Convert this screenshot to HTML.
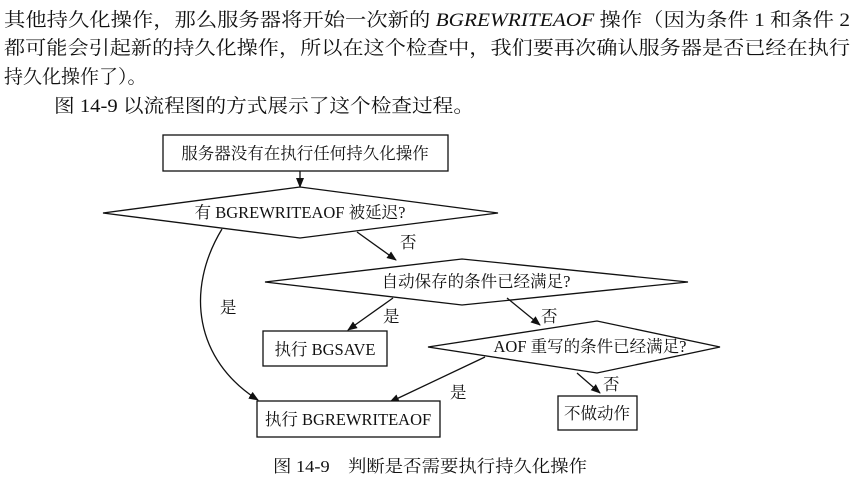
<!DOCTYPE html>
<html><head><meta charset="utf-8"><style>
html,body{margin:0;padding:0;background:#fff;}
svg{display:block;}
text{font-family:"Liberation Serif","Noto Serif CJK SC","Noto Sans CJK SC",serif;fill:#111;}
</style></head><body>
<svg width="856" height="478" viewBox="0 0 856 478" xmlns="http://www.w3.org/2000/svg">
<defs><marker id="a" markerWidth="10" markerHeight="8" refX="9" refY="4" orient="auto" markerUnits="userSpaceOnUse"><path d="M0,0 L10,4 L0,8 z" fill="#111"/></marker></defs>
<g font-size="19">
<text x="4" y="26" textLength="846" lengthAdjust="spacingAndGlyphs">其他持久化操作，那么服务器将开始一次新的 <tspan font-style="italic">BGREWRITEAOF</tspan> 操作（因为条件 1 和条件 2</text>
<text x="4" y="54" textLength="846" lengthAdjust="spacingAndGlyphs">都可能会引起新的持久化操作，所以在这个检查中，我们要再次确认服务器是否已经在执行</text>
<text x="4" y="83">持久化操作了）。</text>
<text x="54" y="112" textLength="420" lengthAdjust="spacingAndGlyphs">图 14-9 以流程图的方式展示了这个检查过程。</text>
</g>
<g fill="none" stroke="#111" stroke-width="1.3">
<rect x="163" y="135" width="285" height="36" fill="#fff"/>
<line x1="300" y1="171" x2="300" y2="187" marker-end="url(#a)"/>
<polygon points="103,213 300,187 498,213 300,238" fill="#fff"/>
<line x1="357" y1="232" x2="396" y2="260" marker-end="url(#a)"/>
<polygon points="265,282 462,259 688,282 462,305" fill="#fff"/>
<line x1="393" y1="298" x2="348" y2="330" marker-end="url(#a)"/>
<rect x="263" y="331" width="124" height="35" fill="#fff"/>
<line x1="507" y1="298" x2="540" y2="325" marker-end="url(#a)"/>
<polygon points="428,347 597,321 720,347 597,373" fill="#fff"/>
<line x1="485" y1="357" x2="390" y2="402" marker-end="url(#a)"/>
<line x1="577" y1="373" x2="600" y2="393" marker-end="url(#a)"/>
<rect x="558" y="396" width="79" height="34" fill="#fff"/>
<rect x="257" y="401" width="183" height="36" fill="#fff"/>
<path d="M222,229 C185,290 195,360 258,400" marker-end="url(#a)"/>
</g>
<g font-size="16.5">
<text x="305" y="159" text-anchor="middle">服务器没有在执行任何持久化操作</text>
<text x="300" y="218" text-anchor="middle">有 BGREWRITEAOF 被延迟?</text>
<text x="400" y="248">否</text>
<text x="476" y="287" text-anchor="middle">自动保存的条件已经满足?</text>
<text x="220" y="313">是</text>
<text x="383" y="322">是</text>
<text x="541" y="322">否</text>
<text x="325" y="355" text-anchor="middle">执行  BGSAVE</text>
<text x="590" y="352" text-anchor="middle">AOF 重写的条件已经满足?</text>
<text x="450" y="398">是</text>
<text x="603" y="390">否</text>
<text x="597" y="419" text-anchor="middle">不做动作</text>
<text x="348" y="425" text-anchor="middle">执行  BGREWRITEAOF</text>
<text x="273" y="472" font-size="17" textLength="314" lengthAdjust="spacingAndGlyphs">图 14-9　判断是否需要执行持久化操作</text>
</g>
</svg>
</body></html>
